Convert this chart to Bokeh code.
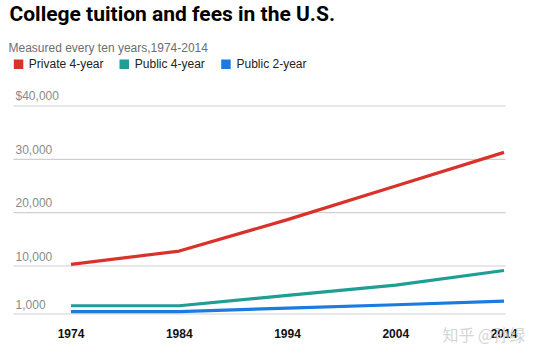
from bokeh.plotting import figure
from bokeh.models import Label, BoxAnnotation
from bokeh.core.properties import value
from bokeh.embed import file_html
from bokeh.resources import INLINE

# ---- data ----
years = [1974, 1984, 1994, 2004, 2014]
year_labels = ["1974", "1984", "1994", "2004", "2014"]
private_4yr = [10300, 12800, 18700, 25000, 31300]
public_4yr = [2550, 2550, 4500, 6400, 9150]
public_2yr = [1450, 1450, 2100, 2730, 3400]
series_names = ["Private 4-year", "Public 4-year", "Public 2-year"]
series_colors = ["#d8322b", "#1f9e95", "#1c7be0"]
y_ticks = [1000, 10000, 20000, 30000, 40000]
y_tick_labels = ["1,000", "10,000", "20,000", "30,000", "$40,000"]

FONT = "Liberation Sans"
W, H = 545, 356

# plot area spans whole canvas; ranges chosen so data sits where the reference has it
x_lo, x_hi = 1967.487, 2017.834
y_lo, y_hi = -6968.75, 59781.25
grid_x0, grid_x1 = 1968.69, 2014.14

p = figure(width=W, height=H, x_range=(x_lo, x_hi), y_range=(y_lo, y_hi),
           output_backend="svg", toolbar_location=None,
           x_axis_location=None, y_axis_location=None,
           min_border=0, min_border_left=0, min_border_right=0,
           min_border_top=0, min_border_bottom=0)
p.outline_line_color = None
p.background_fill_color = "white"
p.border_fill_color = "white"
p.xgrid.visible = False
p.ygrid.visible = False

# horizontal grid lines at the y ticks
p.segment(x0=[grid_x0] * len(y_ticks), x1=[grid_x1] * len(y_ticks), y0=y_ticks, y1=y_ticks,
          line_color="#cfcfcf", line_width=1.2)

# y tick labels, above their grid lines
p.text(x=[grid_x0] * len(y_ticks), y=y_ticks, text=y_tick_labels,
       x_offset=2, y_offset=-10, text_align="left", text_baseline="middle",
       text_font=value(FONT), text_font_size="12px", text_color="#8a8a8a")

# x tick labels (years) along the bottom
p.text(x=years, y=[y_lo] * len(years), text=year_labels, y_offset=-23,
       text_align="center", text_baseline="middle",
       text_font=value(FONT), text_font_style="bold", text_font_size="12px",
       text_color="#111111")

for vals, col in zip([private_4yr, public_4yr, public_2yr], series_colors):
    p.line(years, vals, line_color=col, line_width=3.2)

# title, subtitle, legend (screen units: from left, and up from bottom)
p.add_layout(Label(x=9, y=H - 13.5, x_units="screen", y_units="screen",
                   text="College tuition and fees in the U.S.",
                   text_font="Roboto", text_font_style="bold",
                   text_font_size="21px", text_color="#000000",
                   text_baseline="middle"))
p.add_layout(Label(x=8, y=H - 47, x_units="screen", y_units="screen",
                   text="Measured every ten years,1974-2014",
                   text_font=FONT, text_font_size="12px", text_color="#6e6e6e",
                   text_baseline="middle"))

sq_left = [13.3, 119, 220.7]
txt_left = [28.3, 134.3, 236]
for name, col, sl, tl in zip(series_names, series_colors, sq_left, txt_left):
    p.add_layout(BoxAnnotation(left=sl, right=sl + 9.5, top=H - 59, bottom=H - 68.5,
                               left_units="screen", right_units="screen",
                               top_units="screen", bottom_units="screen",
                               fill_color=col, fill_alpha=1.0, line_color=None))
    p.add_layout(Label(x=tl, y=H - 63.5, x_units="screen", y_units="screen",
                       text=name, text_font=FONT, text_font_size="12px",
                       text_color="#222222", text_baseline="middle"))

# watermark
p.add_layout(Label(x=442, y=H - 333, x_units="screen", y_units="screen",
                   text="知乎 @孙绿", text_font="Noto Sans CJK SC", text_font_size="16px",
                   text_color="#d0d0d0", text_baseline="middle", text_alpha=0.9))

open("out.html", "w").write(file_html(p, INLINE))
